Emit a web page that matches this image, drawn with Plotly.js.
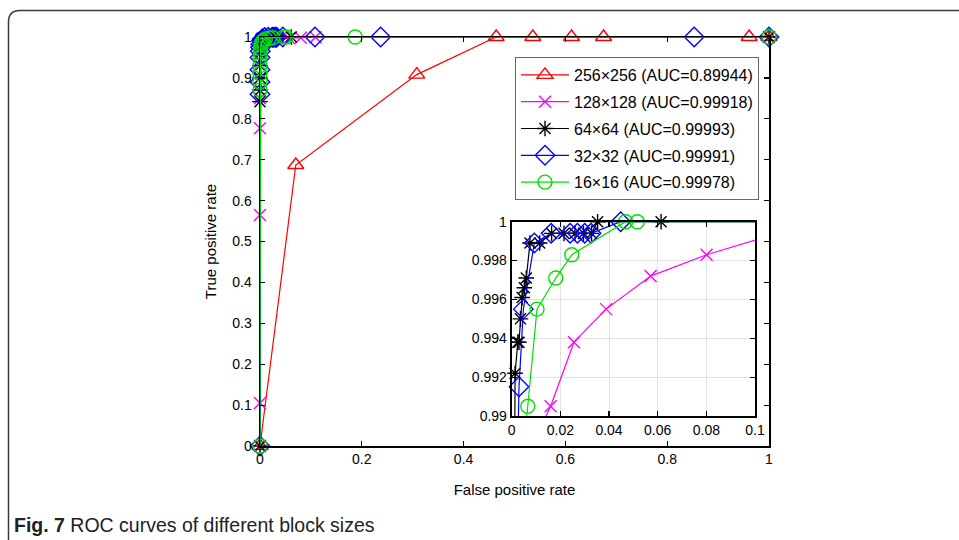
<!DOCTYPE html>
<html>
<head>
<meta charset="utf-8">
<script src="https://cdn.plot.ly/plotly-3.0.1.min.js"></script>
<style>
html,body{margin:0;padding:0;background:#fff;}
#chart{width:959px;height:540px;}
</style>
</head>
<body>
<div id="chart"></div>
<script>
// ---- data ----
const seriesNames = ["256×256 (AUC=0.89944)", "128×128 (AUC=0.99918)", "64×64 (AUC=0.99993)", "32×32 (AUC=0.99991)", "16×16 (AUC=0.99978)"];

const fpr256 = [0, 0.0703, 0.308, 0.464, 0.536, 0.612, 0.675, 0.961, 1];
const tpr256 = [0, 0.687, 0.908, 1, 1, 1, 1, 1, 1];

const fpr128 = [0, 0, 0, 0, 0, 0.0005, 0.001, 0.002, 0.005, 0.016, 0.0256, 0.0388, 0.0571, 0.0801, 0.109, 1];
const tpr128 = [0, 0.105, 0.565, 0.777, 0.85, 0.9, 0.94, 0.965, 0.9875, 0.9905, 0.9938, 0.9955, 0.9972, 0.9983, 0.9994, 1];

const fpr64 = [0, 0, 0, 0, 0, 0.0003, 0.0008, 0.0014, 0.0025, 0.003, 0.0036, 0.0043, 0.0052, 0.006, 0.0075, 0.0115, 0.0164, 0.0215, 0.026, 0.0295, 0.0328, 0.0353, 0.0614, 1];
const tpr64 = [0, 0.842, 0.87, 0.9, 0.93, 0.96, 0.98, 0.9922, 0.9938, 0.9938, 0.995, 0.9961, 0.9966, 0.9971, 0.9989, 0.9989, 0.9994, 0.9994, 0.9994, 0.9994, 0.9994, 1, 1, 1];

const fpr32 = [0, 0, 0, 0, 0, 0.0005, 0.001, 0.0015, 0.003, 0.0048, 0.0093, 0.0162, 0.024, 0.027, 0.030, 0.0326, 0.0448, 0.108, 0.237, 0.853, 1];
const tpr32 = [0, 0.86, 0.89, 0.92, 0.95, 0.965, 0.975, 0.982, 0.9915, 0.9955, 0.9989, 0.9994, 0.9994, 0.9994, 0.9994, 0.9994, 1, 1, 1, 1, 1];

const fpr16 = [0, 0, 0, 0, 0, 0, 0.0005, 0.001, 0.002, 0.003, 0.0045, 0.0066, 0.0104, 0.0181, 0.0247, 0.0468, 0.0516, 0.187, 1];
const tpr16 = [0, 0.87, 0.89, 0.91, 0.93, 0.95, 0.962, 0.972, 0.98, 0.985, 0.988, 0.9905, 0.9955, 0.9971, 0.9983, 1, 1, 1, 1];

const mainXTicks = [0, 0.2, 0.4, 0.6, 0.8, 1];
const mainXText = ["0", "0.2", "0.4", "0.6", "0.8", "1"];
const mainYTicks = [0, 0.1, 0.2, 0.3, 0.4, 0.5, 0.6, 0.7, 0.8, 0.9, 1];
const mainYText = ["0", "0.1", "0.2", "0.3", "0.4", "0.5", "0.6", "0.7", "0.8", "0.9", "1"];
const insetXTicks = [0, 0.02, 0.04, 0.06, 0.08, 0.1];
const insetXText = ["0", "0.02", "0.04", "0.06", "0.08", "0.1"];
const insetYTicks = [0.99, 0.992, 0.994, 0.996, 0.998, 1];
const insetYText = ["0.99", "0.992", "0.994", "0.996", "0.998", "1"];

// ---- styling ----
const W = 959, H = 540;
const L = 260, R = 769, T = 37, B = 446;
const px = v => (v - L) / (R - L);
const py = v => (B - v) / (B - T);

const styles = [
  {color: "#ff0000", symbol: "triangle-up-open", size: 14},
  {color: "#ff00ff", symbol: "x-thin-open", size: 12},
  {color: "#000000", symbol: "asterisk-open", size: 13},
  {color: "#0000ff", symbol: "diamond-open", size: 15},
  {color: "#00e000", symbol: "circle-open", size: 14}
];
const xs = [fpr256, fpr128, fpr64, fpr32, fpr16];
const ys = [tpr256, tpr128, tpr64, tpr32, tpr16];

const traces = [];
for (let i = 0; i < 5; i++) {
  const s = styles[i];
  traces.push({
    type: "scatter", mode: "lines+markers", x: xs[i], y: ys[i],
    name: seriesNames[i], legendgroup: "g" + i, showlegend: true,
    xaxis: "x", yaxis: "y", cliponaxis: false,
    line: {color: s.color, width: 1.2},
    marker: {symbol: s.symbol, size: s.size, color: s.color, line: {color: s.color, width: 1.4}}
  });
}
for (let i = 0; i < 5; i++) {
  const s = styles[i];
  traces.push({
    type: "scatter", mode: "lines+markers", x: xs[i], y: ys[i],
    name: seriesNames[i], legendgroup: "g" + i, showlegend: false,
    xaxis: "x2", yaxis: "y2", cliponaxis: false,
    line: {color: s.color, width: 1.2},
    marker: {symbol: s.symbol, size: s.size, color: s.color, line: {color: s.color, width: 1.4}}
  });
}

const FAM = "'Liberation Sans', Arial, sans-serif";
const font = {family: FAM, size: 14, color: "#000"};

const axisCommon = {
  ticks: "inside", ticklen: 5, tickwidth: 1.2, tickcolor: "#000",
  showline: true, linecolor: "#000", linewidth: 1.5, mirror: "ticks",
  zeroline: false, tickfont: {family: FAM, size: 14, color: "#000"}
};

const layout = {
  width: W, height: H,
  margin: {l: L, r: W - R, t: T, b: H - B, pad: 0},
  paper_bgcolor: "#ffffff", plot_bgcolor: "#ffffff",
  font: font,
  showlegend: true,
  legend: {
    x: px(515), y: py(57), xanchor: "left", yanchor: "top",
    bgcolor: "#ffffff", bordercolor: "#666666", borderwidth: 1,
    font: {family: FAM, size: 16, color: "#000"},
    tracegroupgap: 3, itemsizing: "trace", itemwidth: 48
  },
  xaxis: Object.assign({}, axisCommon, {
    domain: [0, 1], anchor: "y", range: [0, 1],
    tickmode: "array", tickvals: mainXTicks, ticktext: mainXText,
    showgrid: false,
    title: {text: "False positive rate", font: {family: FAM, size: 15, color: "#000"}, standoff: 18}
  }),
  yaxis: Object.assign({}, axisCommon, {
    domain: [0, 1], anchor: "x", range: [0, 1],
    tickmode: "array", tickvals: mainYTicks, ticktext: mainYText,
    showgrid: false, ticklabelstandoff: 4,
    title: {text: "True positive rate", font: {family: FAM, size: 15, color: "#000"}, standoff: 12}
  }),
  xaxis2: Object.assign({}, axisCommon, {
    domain: [px(511.7), px(755)], anchor: "y2", range: [0, 0.1],
    tickmode: "array", tickvals: insetXTicks, ticktext: insetXText,
    showgrid: true, gridcolor: "#e2e2e2", gridwidth: 1, linewidth: 2
  }),
  yaxis2: Object.assign({}, axisCommon, {
    domain: [py(416), py(221.7)], anchor: "x2", range: [0.99, 1],
    tickmode: "array", tickvals: insetYTicks, ticktext: insetYText,
    showgrid: true, gridcolor: "#e2e2e2", gridwidth: 1, linewidth: 2
  }),
  shapes: [{
    type: "path", xref: "paper", yref: "paper", layer: "below",
    path: "M " + px(8.5) + "," + py(600) + " L " + px(8.5) + "," + py(22) +
          " Q " + px(8.5) + "," + py(10.5) + " " + px(20) + "," + py(10.5) +
          " L " + px(1000) + "," + py(10.5),
    line: {color: "#3a3a3a", width: 1.5}
  }],
  annotations: [{
    xref: "paper", yref: "paper", x: px(12), y: py(525),
    xanchor: "left", yanchor: "middle", showarrow: false,
    text: "<b>Fig. 7</b> ROC curves of different block sizes",
    font: {family: "'Liberation Sans', sans-serif", size: 19.5, color: "#222"}
  }]
};

Plotly.newPlot("chart", traces, layout, {staticPlot: true, displayModeBar: false});
</script>
</body>
</html>
